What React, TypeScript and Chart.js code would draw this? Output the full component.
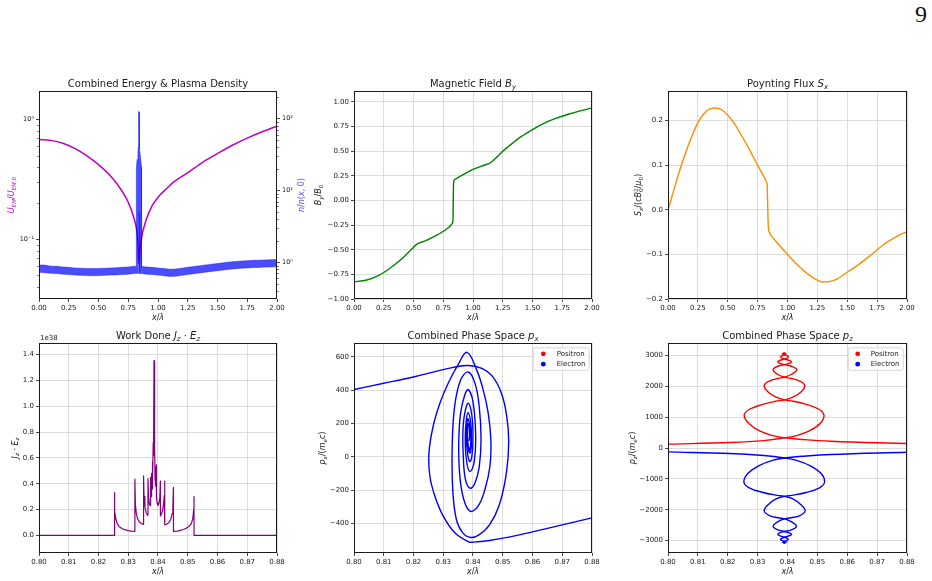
import React, { useEffect, useRef } from "react";
import { Chart, registerables } from "chart.js";

Chart.register(...registerables);

const FONT = "'DejaVu Sans', sans-serif";
const INK = "#1a1a1a";
const GRID = "#d4d4d4";
const PAD_L = 46;
const PAD_T = 26;
const PAD_B = 32;

// ---------- shared x ticks ----------
const fieldTicksX = [0, 0.25, 0.5, 0.75, 1, 1.25, 1.5, 1.75, 2];
const fieldTickLabelsX = ["0.00", "0.25", "0.50", "0.75", "1.00", "1.25", "1.50", "1.75", "2.00"];
const zoomTicksX = [0.8, 0.81, 0.82, 0.83, 0.84, 0.85, 0.86, 0.87, 0.88];
const zoomTickLabelsX = ["0.80", "0.81", "0.82", "0.83", "0.84", "0.85", "0.86", "0.87", "0.88"];

// ---------- panel 1: EM energy (left, log) and plasma density (right, log) ----------
const energyTicks = [0.1, 1];
const energyTickLabels = ["10\u207B\u00B9", "10\u2070"];
const energyMinor = [0.04, 0.05, 0.06, 0.07, 0.08, 0.09, 0.2, 0.3, 0.4, 0.5, 0.6, 0.7, 0.8, 0.9];
const densityTicks = [1, 10, 100];
const densityTickLabels = ["10\u2070", "10\u00B9", "10\u00B2"];
const densityMinor = [0.4, 0.5, 0.6, 0.7, 0.8, 0.9, 2, 3, 4, 5, 6, 7, 8, 9, 20, 30, 40, 50, 60, 70, 80, 90, 200];

const energyX = [0, 0.1, 0.2, 0.3, 0.4, 0.5, 0.6, 0.7, 0.75, 0.8, 0.825, 0.835, 0.84, 0.845, 0.857, 0.9, 0.95, 1.0, 1.08, 1.13, 1.25, 1.375, 1.5, 1.625, 1.75, 1.875, 2.0];
const energyU = [0.68, 0.67, 0.635, 0.575, 0.5, 0.42, 0.339, 0.251, 0.204, 0.148, 0.112, 0.083, 0.063, 0.075, 0.097, 0.145, 0.19, 0.225, 0.27, 0.3, 0.36, 0.44, 0.52, 0.61, 0.7, 0.79, 0.88];

const densityX = [0, 0.05, 0.1, 0.15, 0.2, 0.25, 0.3, 0.35, 0.4, 0.45, 0.5, 0.55, 0.6, 0.65, 0.7, 0.75, 0.8, 0.8175,
  0.818, 0.824, 0.831, 0.8335, 0.834, 0.8383, 0.8384, 0.8414, 0.8415, 0.8455, 0.846, 0.851, 0.8615, 0.862,
  0.875, 0.9, 0.95, 1.0, 1.05, 1.1, 1.15, 1.2, 1.25, 1.3, 1.35, 1.4, 1.45, 1.5, 1.55, 1.6, 1.65, 1.7, 1.75, 1.8, 1.85, 1.9, 1.95, 2.0];
const densityLow = [0.73, 0.716, 0.703, 0.699, 0.685, 0.677, 0.664, 0.659, 0.655, 0.65, 0.655, 0.659, 0.664, 0.668, 0.677, 0.685, 0.699, 0.703,
  0.703, 0.7, 0.7, 0.7, 0.7, 0.7, 5.0, 5.0, 0.7, 0.7, 0.7, 0.7, 0.7, 0.7,
  0.694, 0.685, 0.677, 0.664, 0.65, 0.637, 0.642, 0.659, 0.677, 0.694, 0.712, 0.73, 0.748, 0.765, 0.783, 0.8, 0.815, 0.828, 0.837, 0.845, 0.85, 0.858, 0.863, 0.872];
const densityHigh = [0.92, 0.915, 0.885, 0.88, 0.863, 0.852, 0.835, 0.83, 0.824, 0.818, 0.824, 0.83, 0.835, 0.841, 0.852, 0.863, 0.88, 0.885,
  20, 27, 34, 40, 115, 126, 126, 124, 124, 112, 38, 31, 21, 0.875,
  0.874, 0.863, 0.852, 0.835, 0.818, 0.802, 0.807, 0.83, 0.852, 0.874, 0.897, 0.92, 0.942, 0.964, 0.986, 1.009, 1.026, 1.043, 1.054, 1.065, 1.071, 1.082, 1.088, 1.098];

// ---------- panel 2: magnetic field ----------
const byTicks = [-1, -0.75, -0.5, -0.25, 0, 0.25, 0.5, 0.75, 1];
const byTickLabels = ["\u22121.00", "\u22120.75", "\u22120.50", "\u22120.25", "0.00", "0.25", "0.50", "0.75", "1.00"];
const byX = [0, 0.1, 0.2, 0.3, 0.4, 0.5, 0.525, 0.6, 0.7, 0.8, 0.826, 0.832, 0.834, 0.836, 0.84, 0.85, 0.9, 1.0, 1.1, 1.14, 1.2, 1.25, 1.3, 1.4, 1.5, 1.6, 1.7, 1.8, 1.9, 2.0];
const byValues = [-0.825, -0.81, -0.765, -0.69, -0.595, -0.475, -0.445, -0.41, -0.35, -0.27, -0.235, -0.2, 0.0, 0.15, 0.2, 0.215, 0.25, 0.315, 0.36, 0.378, 0.44, 0.5, 0.55, 0.645, 0.72, 0.785, 0.835, 0.875, 0.91, 0.94];

// ---------- panel 3: Poynting flux ----------
const sxTicks = [-0.2, -0.1, 0, 0.1, 0.2];
const sxTickLabels = ["\u22120.2", "\u22120.1", "0.0", "0.1", "0.2"];
const sxX = [0, 0.05, 0.1, 0.15, 0.2, 0.25, 0.3, 0.35, 0.4, 0.45, 0.5, 0.55, 0.6, 0.65, 0.7, 0.75, 0.8, 0.825, 0.83, 0.835, 0.84, 0.85, 0.9, 0.95, 1.0, 1.1, 1.2, 1.3, 1.4, 1.5, 1.6, 1.7, 1.8, 1.9, 2.0];
const sxValues = [0.0, 0.045, 0.09, 0.13, 0.165, 0.195, 0.215, 0.226, 0.228, 0.224, 0.212, 0.195, 0.173, 0.15, 0.125, 0.1, 0.075, 0.062, 0.055, 0.0, -0.04, -0.052, -0.07, -0.085, -0.1, -0.128, -0.15, -0.162, -0.157, -0.14, -0.122, -0.101, -0.079, -0.062, -0.049];

// ---------- panel 4: J_z E_z (units of 1e38) ----------
const jeTicks = [0, 0.2, 0.4, 0.6, 0.8, 1.0, 1.2, 1.4];
const jeTickLabels = ["0.0", "0.2", "0.4", "0.6", "0.8", "1.0", "1.2", "1.4"];
const jeX = [0.8, 0.8253, 0.82531, 0.8255, 0.8258, 0.8263, 0.827, 0.828, 0.829, 0.83, 0.831, 0.8322,
  0.83223, 0.8324, 0.8327, 0.8331, 0.8337, 0.8344, 0.8351, 0.83515, 0.8353, 0.8356, 0.836, 0.8366,
  0.83663, 0.8368, 0.8371, 0.8374, 0.83745, 0.8376, 0.8378, 0.83785, 0.838, 0.8381, 0.8382, 0.8384, 0.8385,
  0.83866, 0.8388, 0.8389, 0.839, 0.8391, 0.8392, 0.8393, 0.83946, 0.83948, 0.8397, 0.84, 0.8403, 0.8406,
  0.8408, 0.84082, 0.8411, 0.8415, 0.8419, 0.8421, 0.84225, 0.84228, 0.843, 0.8437, 0.8443, 0.8448, 0.845,
  0.84518, 0.8452, 0.8465, 0.8475, 0.8485, 0.8495, 0.8505, 0.8512, 0.8517, 0.852, 0.8521, 0.85212, 0.88];
const jeValues = [0, 0, 0.33, 0.19, 0.13, 0.09, 0.066, 0.051, 0.042, 0.036, 0.033, 0.031,
  0.435, 0.24, 0.17, 0.13, 0.105, 0.092, 0.084, 0.46, 0.3, 0.22, 0.175, 0.155,
  0.44, 0.31, 0.24, 0.23, 0.45, 0.33, 0.3, 0.48, 0.36, 0.57, 0.42, 0.72, 0.62,
  1.353, 0.92, 0.7, 0.45, 0.52, 0.4, 0.38, 0.545, 0.3, 0.25, 0.23, 0.25, 0.29,
  0.42, 0.15, 0.16, 0.19, 0.25, 0.31, 0.42, 0.08, 0.088, 0.1, 0.125, 0.17, 0.22,
  0.37, 0.03, 0.033, 0.038, 0.045, 0.055, 0.07, 0.09, 0.13, 0.2, 0.3, 0, 0];

// ---------- panel 5: p_x phase space (electron arms) ----------
const pxTicks = [-400, -200, 0, 200, 400, 600];
const pxTickLabels = ["\u2212400", "\u2212200", "0", "200", "400", "600"];
const pxArmLeftX = [0.8, 0.81, 0.82, 0.828, 0.834, 0.8385, 0.843, 0.8465, 0.8495, 0.8513, 0.852, 0.8512, 0.8488, 0.8455, 0.842, 0.8392,
  0.8365, 0.8344, 0.8332, 0.833, 0.8338, 0.8358, 0.8384, 0.8407, 0.8421, 0.8427, 0.8421, 0.8406, 0.839, 0.8374, 0.8367, 0.8366,
  0.8372, 0.8384, 0.8396, 0.84, 0.8396, 0.8389, 0.8381, 0.8378, 0.8382, 0.839, 0.8393, 0.8389, 0.8383, 0.8382, 0.8387, 0.839, 0.8387];
const pxArmLeftY = [405, 442, 480, 515, 540, 549, 532, 485, 385, 250, 90, -100, -290, -410, -468, -484,
  -455, -375, -200, 60, 300, 460, 510, 440, 300, 110, -60, -160, -188, -130, 20, 150,
  260, 322, 250, 110, 0, -28, 30, 130, 228, 190, 110, 40, 80, 170, 200, 140, 100];
const pxArmRightX = [0.88, 0.87, 0.86, 0.852, 0.8455, 0.84, 0.8385, 0.8339, 0.83, 0.8272, 0.8255, 0.8252, 0.8266, 0.8289, 0.8317, 0.835,
  0.838, 0.8412, 0.8434, 0.8451, 0.846, 0.8457, 0.844, 0.8417, 0.839, 0.8368, 0.8355, 0.8352, 0.8358, 0.8372, 0.8384, 0.84,
  0.8409, 0.8404, 0.839, 0.8378, 0.8374, 0.8377, 0.8383, 0.8392, 0.8395, 0.8391, 0.8384, 0.838, 0.8382, 0.8387, 0.8389];
const pxArmRightY = [-366, -408, -450, -482, -502, -512, -510, -456, -356, -236, -116, 24, 184, 324, 444, 554,
  628, 524, 404, 264, 104, -56, -196, -296, -326, -250, -100, 80, 260, 370, 404, 330,
  130, -30, -88, -20, 120, 210, 265, 210, 100, 25, 40, 130, 200, 180, 120];

// ---------- panel 6: p_z phase space ----------
const pzTicks = [-3000, -2000, -1000, 0, 1000, 2000, 3000];
const pzTickLabels = ["\u22123000", "\u22122000", "\u22121000", "0", "1000", "2000", "3000"];
const posLeftX = [0.8, 0.8207, 0.832, 0.839, 0.843, 0.8475, 0.851, 0.8522, 0.8505, 0.846, 0.842, 0.839, 0.8362, 0.8335, 0.8322, 0.834, 0.8368, 0.839, 0.8412, 0.8431, 0.8415, 0.839, 0.8372, 0.8368, 0.8378, 0.839, 0.84, 0.8403, 0.8395, 0.8387, 0.8383, 0.8389];
const posLeftY = [125, 179, 240, 330, 400, 560, 800, 1065, 1255, 1420, 1515, 1560, 1645, 1815, 2020, 2170, 2250, 2295, 2380, 2530, 2640, 2700, 2750, 2800, 2850, 2880, 2920, 2960, 3000, 3025, 3050, 3078];
const posRightX = [0.88, 0.8543, 0.845, 0.839, 0.835, 0.8305, 0.827, 0.8255, 0.8273, 0.832, 0.836, 0.839, 0.8418, 0.8445, 0.8458, 0.844, 0.8412, 0.839, 0.8368, 0.8352, 0.8365, 0.839, 0.8408, 0.8413, 0.8402, 0.839, 0.838, 0.8377, 0.8384, 0.8391, 0.8395, 0.8389];
const posRightY = [146, 221, 275, 330, 400, 560, 800, 1065, 1255, 1420, 1515, 1560, 1645, 1815, 2020, 2170, 2250, 2295, 2380, 2530, 2640, 2700, 2750, 2800, 2850, 2880, 2920, 2960, 3000, 3025, 3050, 3078];
const eleLeftX = [0.8, 0.8207, 0.832, 0.839, 0.843, 0.8475, 0.8512, 0.8524, 0.8507, 0.8462, 0.842, 0.839, 0.8362, 0.8336, 0.8322, 0.834, 0.8368, 0.839, 0.8412, 0.843, 0.8415, 0.839, 0.8372, 0.8368, 0.8378, 0.839, 0.84, 0.8402, 0.8394, 0.8387, 0.8384, 0.8389];
const eleLeftY = [-127, -179, -245, -322, -400, -570, -820, -1100, -1290, -1440, -1525, -1565, -1650, -1830, -2040, -2190, -2260, -2295, -2385, -2530, -2645, -2705, -2755, -2805, -2855, -2890, -2930, -2970, -3010, -3030, -3055, -3078];
const eleRightX = [0.88, 0.8543, 0.845, 0.839, 0.835, 0.8305, 0.8268, 0.8254, 0.8272, 0.8318, 0.836, 0.839, 0.8418, 0.8444, 0.8459, 0.8441, 0.8412, 0.839, 0.8368, 0.8352, 0.8366, 0.839, 0.8408, 0.8413, 0.8402, 0.839, 0.838, 0.8377, 0.8385, 0.8392, 0.8395, 0.8389];
const eleRightY = [-138, -212, -268, -322, -400, -570, -820, -1100, -1290, -1440, -1525, -1565, -1650, -1830, -2040, -2190, -2260, -2295, -2385, -2530, -2645, -2705, -2755, -2805, -2855, -2890, -2930, -2970, -3010, -3030, -3055, -3078];

const legendNames = ["Positron", "Electron"];
const legendColors = ["#ff0000", "#0000ff"];

// ---------- math-style text ----------
type Seg = { t: string; i?: boolean; l?: number; o?: boolean };

function drawMath(ctx: CanvasRenderingContext2D, segs: Seg[], size: number, cx: number, cy: number, color: string, rot = 0) {
  const fontOf = (s: Seg) => `${s.i ? "italic " : ""}${(s.l ? size * 0.7 : size).toFixed(2)}px ${FONT}`;
  const widths = segs.map((s) => {
    ctx.font = fontOf(s);
    return ctx.measureText(s.t).width;
  });
  let total = 0;
  let prevW = 0;
  segs.forEach((s, k) => {
    if (s.o) {
      total += Math.max(0, widths[k] - prevW);
      prevW = Math.max(prevW, widths[k]);
    } else {
      total += widths[k];
      prevW = widths[k];
    }
  });
  ctx.save();
  ctx.translate(cx, cy);
  ctx.rotate(rot);
  ctx.fillStyle = color;
  ctx.textAlign = "left";
  ctx.textBaseline = "alphabetic";
  const base = size * 0.36;
  let x = -total / 2;
  let start = x;
  prevW = 0;
  segs.forEach((s, k) => {
    ctx.font = fontOf(s);
    const dy = s.l === -1 ? size * 0.22 : s.l === 1 ? -size * 0.42 : 0;
    if (s.o) {
      ctx.fillText(s.t, start, base + dy);
      const nw = Math.max(prevW, widths[k]);
      x = start + nw;
      prevW = nw;
    } else {
      ctx.fillText(s.t, x, base + dy);
      start = x;
      prevW = widths[k];
      x += widths[k];
    }
  });
  ctx.restore();
}

const X_LABEL: Seg[] = [{ t: "x", i: true }, { t: "/" }, { t: "\u03BB", i: true }];

type Deco = {
  title: Seg[];
  yLabel: Seg[];
  yDx: number;
  yColor?: string;
  y2Label?: Seg[];
  y2Dx?: number;
  y2Color?: string;
  minor?: { scale: string; side: "left" | "right"; values: number[] }[];
  offsetText?: string;
  legend?: { w: number; dr: number; mx: number; tx: number };
};

function makeDeco(d: Deco) {
  return {
    id: "deco",
    afterDraw(chart: any) {
      const ctx: CanvasRenderingContext2D = chart.ctx;
      const a = chart.chartArea;
      ctx.save();
      if (d.minor) {
        ctx.strokeStyle = INK;
        ctx.lineWidth = 0.6;
        for (const m of d.minor) {
          const sc = chart.scales[m.scale];
          for (const v of m.values) {
            const y = Math.round(sc.getPixelForValue(v)) + 0.5;
            ctx.beginPath();
            if (m.side === "left") {
              ctx.moveTo(a.left, y);
              ctx.lineTo(a.left - 2, y);
            } else {
              ctx.moveTo(a.right, y);
              ctx.lineTo(a.right + 2, y);
            }
            ctx.stroke();
          }
        }
      }
      ctx.strokeStyle = INK;
      ctx.lineWidth = 1;
      ctx.strokeRect(a.left + 0.5, a.top + 0.5, a.right - a.left - 1, a.bottom - a.top - 1);

      const midX = (a.left + a.right) / 2;
      const midY = (a.top + a.bottom) / 2;
      drawMath(ctx, d.title, 10, midX, a.top - 8, INK);
      drawMath(ctx, X_LABEL, 8, midX, a.bottom + 18.5, INK);
      drawMath(ctx, d.yLabel, 8, a.left - d.yDx, midY, d.yColor || INK, -Math.PI / 2);
      if (d.y2Label) drawMath(ctx, d.y2Label, 8, a.right + (d.y2Dx || 0), midY, d.y2Color || INK, -Math.PI / 2);

      if (d.offsetText) {
        ctx.font = `7px ${FONT}`;
        ctx.fillStyle = INK;
        ctx.textAlign = "left";
        ctx.textBaseline = "alphabetic";
        ctx.fillText(d.offsetText, a.left + 1, a.top - 3);
      }
      if (d.legend) {
        const lg = d.legend;
        const bh = 22.5;
        const bx = a.right - lg.dr - lg.w;
        const by = a.top + 4.3;
        ctx.beginPath();
        ctx.roundRect(bx + 0.5, by + 0.5, lg.w, bh, 2);
        ctx.fillStyle = "rgba(255,255,255,0.85)";
        ctx.fill();
        ctx.strokeStyle = "#cccccc";
        ctx.lineWidth = 0.8;
        ctx.stroke();
        legendNames.forEach((name, k) => {
          const cy = by + 6.5 + k * 10.4;
          ctx.beginPath();
          ctx.arc(bx + lg.mx, cy, 2.4, 0, Math.PI * 2);
          ctx.fillStyle = legendColors[k];
          ctx.fill();
          ctx.font = `7px ${FONT}`;
          ctx.fillStyle = INK;
          ctx.textAlign = "left";
          ctx.textBaseline = "middle";
          ctx.fillText(name, bx + lg.tx, cy + 0.3);
        });
      }
      ctx.restore();
    },
  };
}

// ---------- scales ----------
const tickFont = { family: FONT, size: 7 };
const logTickFont = { family: FONT, size: 6.5 };

function scaleX(ticks: number[], labels: string[], min: number, max: number, grid: boolean) {
  return {
    type: "linear",
    min,
    max,
    bounds: "data",
    afterFit: (s: any) => {
      s.height = PAD_B;
    },
    afterBuildTicks: (s: any) => {
      s.ticks = ticks.map((v) => ({ value: v }));
    },
    ticks: {
      autoSkip: false,
      maxRotation: 0,
      minRotation: 0,
      padding: 2,
      color: INK,
      font: tickFont,
      callback: (_v: any, i: number) => labels[i],
    },
    grid: { display: true, drawOnChartArea: grid, drawTicks: true, tickLength: 3, color: GRID, lineWidth: 0.8, tickColor: INK, tickWidth: 0.8 },
    border: { display: false },
  };
}

function scaleY(type: string, position: string, width: number, ticks: number[], labels: string[], min: number, max: number, grid: boolean) {
  return {
    type,
    position,
    min,
    max,
    bounds: "data",
    afterFit: (s: any) => {
      s.width = width;
    },
    afterBuildTicks: (s: any) => {
      s.ticks = ticks.map((v) => ({ value: v }));
    },
    ticks: {
      autoSkip: false,
      padding: 2,
      color: INK,
      font: type === "logarithmic" ? logTickFont : tickFont,
      callback: (_v: any, i: number) => labels[i],
    },
    grid: { display: true, drawOnChartArea: grid, drawTicks: true, tickLength: 3, color: GRID, lineWidth: 0.8, tickColor: INK, tickWidth: 0.8 },
    border: { display: false },
  };
}

const pts = (xs: number[], ys: number[]) => xs.map((x, k) => ({ x, y: ys[k] }));

function lineSet(xs: number[], ys: number[], color: string, extra: any = {}) {
  return {
    data: pts(xs, ys),
    borderColor: color,
    borderWidth: 1.4,
    pointRadius: 0,
    fill: false,
    borderJoinStyle: "round",
    borderCapStyle: "round",
    ...extra,
  };
}

function baseOptions(padRight: number, scales: any) {
  return {
    responsive: false,
    maintainAspectRatio: false,
    animation: false,
    events: [],
    layout: { padding: { left: 0, top: PAD_T, right: padRight, bottom: 0 } },
    plugins: { legend: { display: false }, tooltip: { enabled: false }, title: { display: false } },
    scales,
  };
}

// ---------- panels ----------
type PanelDef = { plot: [number, number, number, number]; padR: number; make: () => any };

const panels: PanelDef[] = [
  {
    plot: [39, 91, 277, 299],
    padR: 36,
    make: () => ({
      type: "line",
      data: {
        datasets: [
          lineSet(densityX, densityLow, "rgba(0,0,255,0.5)", { yAxisID: "y2", borderWidth: 0.8 }),
          lineSet(densityX, densityHigh, "rgba(0,0,255,0.5)", { yAxisID: "y2", borderWidth: 0.8, fill: "-1", backgroundColor: "rgba(0,0,255,0.7)" }),
          lineSet(energyX, energyU, "#bf00bf", { yAxisID: "y", borderWidth: 1.5, cubicInterpolationMode: "monotone" }),
        ],
      },
      options: baseOptions(0, {
        x: scaleX(fieldTicksX, fieldTickLabelsX, 0, 2, false),
        y: scaleY("logarithmic", "left", PAD_L, energyTicks, energyTickLabels, 0.0318, 1.73, false),
        y2: scaleY("logarithmic", "right", 36, densityTicks, densityTickLabels, 0.309, 242, false),
      }),
      plugins: [
        makeDeco({
          title: [{ t: "Combined Energy & Plasma Density" }],
          yLabel: [{ t: "U", i: true }, { t: "EM", i: true, l: -1 }, { t: "/" }, { t: "U", i: true }, { t: "EM", i: true, l: -1 }, { t: ",0", l: -1 }],
          yDx: 27.6,
          yColor: "#bf00bf",
          y2Label: [{ t: "n", i: true }, { t: "/" }, { t: "n", i: true }, { t: "(" }, { t: "x", i: true }, { t: ", 0)" }],
          y2Dx: 24.4,
          y2Color: "#4d4dff",
          minor: [
            { scale: "y", side: "left", values: energyMinor },
            { scale: "y2", side: "right", values: densityMinor },
          ],
        }),
      ],
    }),
  },
  {
    plot: [354, 91, 592, 299],
    padR: 12,
    make: () => ({
      type: "line",
      data: { datasets: [lineSet(byX, byValues, "#008000", { cubicInterpolationMode: "monotone" })] },
      options: baseOptions(12, {
        x: scaleX(fieldTicksX, fieldTickLabelsX, 0, 2, true),
        y: scaleY("linear", "left", PAD_L, byTicks, byTickLabels, -1, 1.111, true),
      }),
      plugins: [
        makeDeco({
          title: [{ t: "Magnetic Field " }, { t: "B", i: true }, { t: "y", i: true, l: -1 }],
          yLabel: [{ t: "B", i: true }, { t: "y", i: true, l: -1 }, { t: "/" }, { t: "B", i: true }, { t: "0", l: -1 }],
          yDx: 36,
        }),
      ],
    }),
  },
  {
    plot: [668, 91, 907, 299],
    padR: 12,
    make: () => ({
      type: "line",
      data: { datasets: [lineSet(sxX, sxValues, "#ff8c00", { cubicInterpolationMode: "monotone" })] },
      options: baseOptions(12, {
        x: scaleX(fieldTicksX, fieldTickLabelsX, 0, 2, true),
        y: scaleY("linear", "left", PAD_L, sxTicks, sxTickLabels, -0.2, 0.266, true),
      }),
      plugins: [
        makeDeco({
          title: [{ t: "Poynting Flux " }, { t: "S", i: true }, { t: "x", i: true, l: -1 }],
          yLabel: [
            { t: "S", i: true }, { t: "x", i: true, l: -1 }, { t: "/(" }, { t: "c", i: true }, { t: "B", i: true },
            { t: "0", l: -1 }, { t: "2", l: 1, o: true }, { t: "/" }, { t: "\u03BC", i: true }, { t: "0", l: -1 }, { t: ")" },
          ],
          yDx: 30,
        }),
      ],
    }),
  },
  {
    plot: [39, 343, 277, 553],
    padR: 12,
    make: () => ({
      type: "line",
      data: { datasets: [lineSet(jeX, jeValues, "#800080", { borderWidth: 1.2, tension: 0 })] },
      options: baseOptions(12, {
        x: scaleX(zoomTicksX, zoomTickLabelsX, 0.8, 0.88, true),
        y: scaleY("linear", "left", PAD_L, jeTicks, jeTickLabels, -0.137, 1.49, true),
      }),
      plugins: [
        makeDeco({
          title: [{ t: "Work Done " }, { t: "J", i: true }, { t: "z", i: true, l: -1 }, { t: " \u00B7 " }, { t: "E", i: true }, { t: "z", i: true, l: -1 }],
          yLabel: [{ t: "J", i: true }, { t: "z", i: true, l: -1 }, { t: " \u00B7 " }, { t: "E", i: true }, { t: "z", i: true, l: -1 }],
          yDx: 24.3,
          offsetText: "1e38",
        }),
      ],
    }),
  },
  {
    plot: [354, 343, 592, 553],
    padR: 12,
    make: () => ({
      type: "line",
      data: {
        datasets: [
          lineSet(pxArmLeftX, pxArmLeftY, "#0000ff", { tension: 0.4 }),
          lineSet(pxArmRightX, pxArmRightY, "#0000ff", { tension: 0.4 }),
        ],
      },
      options: baseOptions(12, {
        x: scaleX(zoomTicksX, zoomTickLabelsX, 0.8, 0.88, true),
        y: scaleY("linear", "left", PAD_L, pxTicks, pxTickLabels, -577, 684, true),
      }),
      plugins: [
        makeDeco({
          title: [{ t: "Combined Phase Space " }, { t: "p", i: true }, { t: "x", i: true, l: -1 }],
          yLabel: [{ t: "p", i: true }, { t: "x", i: true, l: -1 }, { t: "/(" }, { t: "m", i: true }, { t: "e", i: true, l: -1 }, { t: "c", i: true }, { t: ")" }],
          yDx: 31.7,
          legend: { w: 56, dr: 3.3, mx: 10.6, tx: 24 },
        }),
      ],
    }),
  },
  {
    plot: [668, 343, 907, 553],
    padR: 12,
    make: () => ({
      type: "line",
      data: {
        datasets: [
          lineSet(posLeftX, posLeftY, "#ff0000", { tension: 0.4 }),
          lineSet(posRightX, posRightY, "#ff0000", { tension: 0.4 }),
          lineSet(eleLeftX, eleLeftY, "#0000ff", { tension: 0.4 }),
          lineSet(eleRightX, eleRightY, "#0000ff", { tension: 0.4 }),
        ],
      },
      options: baseOptions(12, {
        x: scaleX(zoomTicksX, zoomTickLabelsX, 0.8, 0.88, true),
        y: scaleY("linear", "left", PAD_L, pzTicks, pzTickLabels, -3401, 3401, true),
      }),
      plugins: [
        makeDeco({
          title: [{ t: "Combined Phase Space " }, { t: "p", i: true }, { t: "z", i: true, l: -1 }],
          yLabel: [{ t: "p", i: true }, { t: "z", i: true, l: -1 }, { t: "/(" }, { t: "m", i: true }, { t: "e", i: true, l: -1 }, { t: "c", i: true }, { t: ")" }],
          yDx: 36,
          legend: { w: 55, dr: 4.3, mx: 10, tx: 23 },
        }),
      ],
    }),
  },
];

function ChartPanel({ def }: { def: PanelDef }) {
  const ref = useRef<HTMLCanvasElement>(null);
  const [L, T, R, B] = def.plot;
  const w = R - L + PAD_L + def.padR;
  const h = B - T + PAD_T + PAD_B;
  useEffect(() => {
    const chart = new Chart(ref.current as HTMLCanvasElement, def.make());
    return () => chart.destroy();
  }, []);
  return (
    <canvas
      ref={ref}
      width={w}
      height={h}
      style={{ position: "absolute", left: L - PAD_L, top: T - PAD_T, width: w, height: h }}
    />
  );
}

export default function App() {
  return (
    <div style={{ position: "absolute", left: 0, top: 0, width: 932, height: 581, background: "#ffffff", overflow: "hidden" }}>
      <div style={{ position: "absolute", left: 915, top: 2, font: "24px 'Liberation Serif', serif", lineHeight: "24px", color: "#111" }}>9</div>
      {panels.map((p, k) => (
        <ChartPanel key={k} def={p} />
      ))}
    </div>
  );
}
